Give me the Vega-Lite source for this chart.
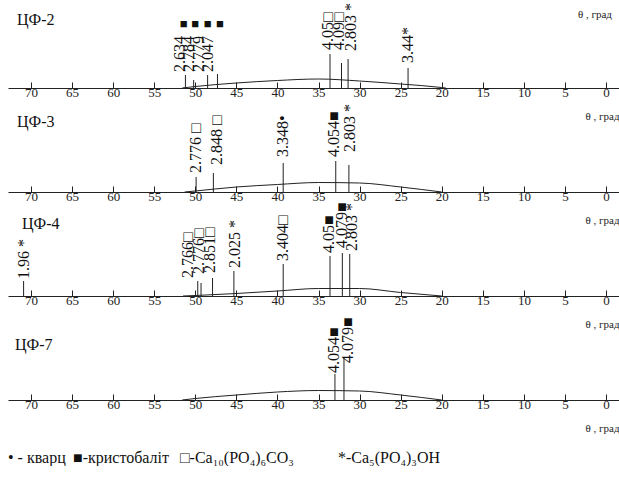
{
  "$schema": "https://vega.github.io/schema/vega-lite/v6.json",
  "background": "white",
  "padding": {"left": 8, "top": 0, "right": 0, "bottom": 0},
  "bounds": "flush",
  "spacing": 24,
  "config": {
    "view": {"stroke": null},
    "axisX": {
      "values": [0, 5, 10, 15, 20, 25, 30, 35, 40, 45, 50, 55, 60, 65, 70],
      "format": "d",
      "title": "θ , град",
      "titleAnchor": "start",
      "titleAlign": "right",
      "titleFont": "Liberation Serif",
      "titleFontSize": 11,
      "titleFontWeight": "normal",
      "titleColor": "#222",
      "titlePadding": 11,
      "labelFont": "Liberation Serif",
      "labelFontSize": 13,
      "labelColor": "#222",
      "labelPadding": 4,
      "labelFlush": false,
      "labelOverlap": false,
      "tickSize": -6,
      "tickColor": "#222",
      "domainColor": "#222",
      "grid": false
    }
  },
  "vconcat": [
    {
      "width": 611, "height": 88,
      "encoding": {"x": {"field": "t", "type": "quantitative", "title": "θ , град", "scale": {"domain": [-1.58, 72.8], "reverse": true, "nice": false, "zero": false}}},
      "layer": [
        {"data": {"values": [{"t":51.6,"v":0},{"t":50,"v":1.5},{"t":45,"v":5},{"t":40,"v":7.5},{"t":35,"v":9},{"t":30,"v":7},{"t":25,"v":4},{"t":20,"v":0.5},{"t":19.5,"v":0}]},
         "mark": {"type": "line", "interpolate": "monotone", "color": "#222", "strokeWidth": 1},
         "encoding": {"y": {"field": "v", "type": "quantitative", "scale": {"domain": [0, 88]}, "axis": null}}},
        {"data": {"values": [
          {"t":51.2,"h":13,"lt":51.9,"ly":16,"label":"2.634"},
          {"t":50.2,"h":8,"lt":50.8,"ly":16,"label":"2.784"},
          {"t":48.5,"h":13,"lt":49.6,"ly":16,"label":"2.779"},
          {"t":47.3,"h":14,"lt":48.5,"ly":16,"label":"2.047"},
          {"t":33.6,"h":34,"lt":33.8,"ly":38,"label":"4.05□"},
          {"t":32.2,"h":25,"lt":32.5,"ly":38,"label":"4.09□"},
          {"t":31.4,"h":29,"lt":31.0,"ly":37,"label":"2.803 *"},
          {"t":24.1,"h":20,"lt":24.1,"ly":25,"label":"3.44*"}]},
         "layer": [
           {"mark": {"type": "rule", "color": "#222", "strokeWidth": 1},
            "encoding": {"y": {"field": "h", "type": "quantitative", "scale": {"domain": [0, 88]}, "axis": null}, "y2": {"datum": 0}}},
           {"mark": {"type": "text", "angle": 270, "align": "left", "baseline": "middle", "font": "Liberation Serif", "fontSize": 16, "color": "#111"},
            "encoding": {"x": {"field": "lt", "type": "quantitative"}, "y": {"field": "ly", "type": "quantitative", "scale": {"domain": [0, 88]}, "axis": null}, "text": {"field": "label"}}}
         ]},
        {"data": {"values": [{"t":51.4,"y":64,"s":"■"},{"t":50.0,"y":64,"s":"■"},{"t":48.5,"y":64,"s":"■"},{"t":47.0,"y":64,"s":"■"}]},
         "mark": {"type": "text", "align": "center", "baseline": "middle", "fontSize": 13, "color": "#111"},
         "encoding": {"y": {"field": "y", "type": "quantitative", "scale": {"domain": [0, 88]}, "axis": null}, "text": {"field": "s"}}},
        {"data": {"values": [{"t":71.7,"y":68,"name":"ЦФ-2"}]},
         "mark": {"type": "text", "align": "left", "baseline": "middle", "font": "Liberation Serif", "fontSize": 16, "color": "#111"},
         "encoding": {"y": {"field": "y", "type": "quantitative", "scale": {"domain": [0, 88]}, "axis": null}, "text": {"field": "name"}}},
        {"data": {"values": [{"t":-0.72,"y":73,"name":"θ , град"}]},
         "mark": {"type": "text", "align": "right", "baseline": "middle", "font": "Liberation Serif", "fontSize": 11, "color": "#222"},
         "encoding": {"y": {"field": "y", "type": "quantitative", "scale": {"domain": [0, 88]}, "axis": null}, "text": {"field": "name"}}}
      ]
    },
    {
      "width": 611, "height": 80,
      "encoding": {"x": {"field": "t", "type": "quantitative", "title": "θ , град", "scale": {"domain": [-1.58, 72.8], "reverse": true, "nice": false, "zero": false}}},
      "layer": [
        {"data": {"values": [{"t":51.3,"v":0},{"t":50,"v":1},{"t":45,"v":5},{"t":40,"v":7.5},{"t":35,"v":9.5},{"t":30,"v":9},{"t":25,"v":5},{"t":20,"v":0}]},
         "mark": {"type": "line", "interpolate": "monotone", "color": "#222", "strokeWidth": 1},
         "encoding": {"y": {"field": "v", "type": "quantitative", "scale": {"domain": [0, 80]}, "axis": null}}},
        {"data": {"values": [
          {"t":49.9,"h":15,"lt":49.9,"ly":19,"label":"2.776 □"},
          {"t":47.8,"h":19,"lt":47.3,"ly":27,"label":"2.848 □"},
          {"t":39.3,"h":29,"lt":39.3,"ly":35,"label":"3.348•"},
          {"t":32.9,"h":31,"lt":33.1,"ly":35,"label":"4.054■"},
          {"t":31.3,"h":27,"lt":31.2,"ly":40,"label":"2.803 *"}]},
         "layer": [
           {"mark": {"type": "rule", "color": "#222", "strokeWidth": 1},
            "encoding": {"y": {"field": "h", "type": "quantitative", "scale": {"domain": [0, 80]}, "axis": null}, "y2": {"datum": 0}}},
           {"mark": {"type": "text", "angle": 270, "align": "left", "baseline": "middle", "font": "Liberation Serif", "fontSize": 16, "color": "#111"},
            "encoding": {"x": {"field": "lt", "type": "quantitative"}, "y": {"field": "ly", "type": "quantitative", "scale": {"domain": [0, 80]}, "axis": null}, "text": {"field": "label"}}}
         ]},
        {"data": {"values": [{"t":71.7,"y":70,"name":"ЦФ-3"}]},
         "mark": {"type": "text", "align": "left", "baseline": "middle", "font": "Liberation Serif", "fontSize": 16, "color": "#111"},
         "encoding": {"y": {"field": "y", "type": "quantitative", "scale": {"domain": [0, 80]}, "axis": null}, "text": {"field": "name"}}}
      ]
    },
    {
      "width": 611, "height": 80,
      "encoding": {"x": {"field": "t", "type": "quantitative", "title": "θ , град", "scale": {"domain": [-1.58, 72.8], "reverse": true, "nice": false, "zero": false}}},
      "layer": [
        {"data": {"values": [{"t":51.5,"v":0},{"t":50,"v":0.5},{"t":45,"v":2.5},{"t":40,"v":5},{"t":35,"v":7.5},{"t":30,"v":7.5},{"t":25,"v":3.5},{"t":20,"v":0}]},
         "mark": {"type": "line", "interpolate": "monotone", "color": "#222", "strokeWidth": 1},
         "encoding": {"y": {"field": "v", "type": "quantitative", "scale": {"domain": [0, 80]}, "axis": null}}},
        {"data": {"values": [
          {"t":70.9,"h":15,"lt":70.9,"ly":17,"label":"1.96 *"},
          {"t":49.7,"h":15,"lt":50.9,"ly":18,"label":"2.766□"},
          {"t":49.3,"h":13,"lt":49.6,"ly":22,"label":"2.776□"},
          {"t":47.9,"h":18,"lt":48.2,"ly":23,"label":"2.851□"},
          {"t":45.3,"h":25,"lt":45.2,"ly":28,"label":"2.025 *"},
          {"t":39.3,"h":32,"lt":39.3,"ly":35,"label":"3.404□"},
          {"t":33.6,"h":40,"lt":33.7,"ly":43,"label":"4.05■"},
          {"t":32.1,"h":43,"lt":32.1,"ly":48,"label":"4.079■"},
          {"t":31.2,"h":42,"lt":30.9,"ly":45,"label":"2.803 *"}]},
         "layer": [
           {"mark": {"type": "rule", "color": "#222", "strokeWidth": 1},
            "encoding": {"y": {"field": "h", "type": "quantitative", "scale": {"domain": [0, 80]}, "axis": null}, "y2": {"datum": 0}}},
           {"mark": {"type": "text", "angle": 270, "align": "left", "baseline": "middle", "font": "Liberation Serif", "fontSize": 16, "color": "#111"},
            "encoding": {"x": {"field": "lt", "type": "quantitative"}, "y": {"field": "ly", "type": "quantitative", "scale": {"domain": [0, 80]}, "axis": null}, "text": {"field": "label"}}}
         ]},
        {"data": {"values": [{"t":71.1,"y":72,"name":"ЦФ-4"}]},
         "mark": {"type": "text", "align": "left", "baseline": "middle", "font": "Liberation Serif", "fontSize": 16, "color": "#111"},
         "encoding": {"y": {"field": "y", "type": "quantitative", "scale": {"domain": [0, 80]}, "axis": null}, "text": {"field": "name"}}}
      ]
    },
    {
      "width": 611, "height": 80,
      "encoding": {"x": {"field": "t", "type": "quantitative", "title": "θ , град", "scale": {"domain": [-1.58, 72.8], "reverse": true, "nice": false, "zero": false}}},
      "layer": [
        {"data": {"values": [{"t":51.6,"v":0},{"t":50,"v":1.5},{"t":45,"v":5},{"t":40,"v":8},{"t":35,"v":9.5},{"t":30,"v":9},{"t":25,"v":5},{"t":20,"v":0}]},
         "mark": {"type": "line", "interpolate": "monotone", "color": "#222", "strokeWidth": 1},
         "encoding": {"y": {"field": "v", "type": "quantitative", "scale": {"domain": [0, 80]}, "axis": null}}},
        {"data": {"values": [
          {"t":33.0,"h":26,"lt":33.1,"ly":27,"label":"4.054■"},
          {"t":31.9,"h":43,"lt":31.4,"ly":37,"label":"4.079■"}]},
         "layer": [
           {"mark": {"type": "rule", "color": "#222", "strokeWidth": 1},
            "encoding": {"y": {"field": "h", "type": "quantitative", "scale": {"domain": [0, 80]}, "axis": null}, "y2": {"datum": 0}}},
           {"mark": {"type": "text", "angle": 270, "align": "left", "baseline": "middle", "font": "Liberation Serif", "fontSize": 16, "color": "#111"},
            "encoding": {"x": {"field": "lt", "type": "quantitative"}, "y": {"field": "ly", "type": "quantitative", "scale": {"domain": [0, 80]}, "axis": null}, "text": {"field": "label"}}}
         ]},
        {"data": {"values": [{"t":71.95,"y":55,"name":"ЦФ-7"}]},
         "mark": {"type": "text", "align": "left", "baseline": "middle", "font": "Liberation Serif", "fontSize": 16, "color": "#111"},
         "encoding": {"y": {"field": "y", "type": "quantitative", "scale": {"domain": [0, 80]}, "axis": null}, "text": {"field": "name"}}}
      ]
    },
    {
      "width": 611, "height": 40,
      "data": {"values": [
        {"t":72.8,"item":"• - кварц"},
        {"t":64.89,"item":"■-кристобаліт"},
        {"t":51.87,"item":"□-Ca₁₀(PO₄)₆CO₃"},
        {"t":32.63,"item":"*-Ca₅(PO₄)₃OH"}]},
      "mark": {"type": "text", "align": "left", "baseline": "middle", "font": "Liberation Serif", "fontSize": 16, "color": "#111"},
      "encoding": {
        "x": {"field": "t", "type": "quantitative", "scale": {"domain": [-1.58, 72.8], "reverse": true, "nice": false, "zero": false}, "axis": null},
        "y": {"datum": 0.15, "type": "quantitative", "scale": {"domain": [0, 1]}, "axis": null},
        "text": {"field": "item"}
      }
    }
  ]
}
